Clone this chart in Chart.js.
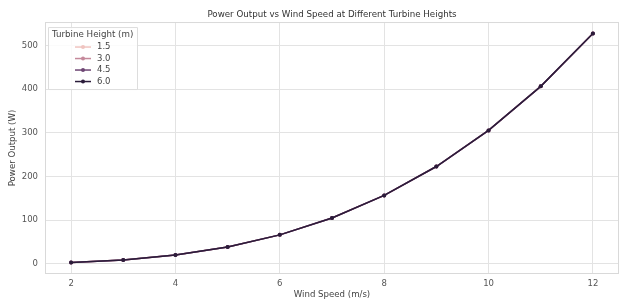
<!DOCTYPE html>
<html><head><meta charset="utf-8">
<script src="https://cdn.jsdelivr.net/npm/chart.js@4"></script>
<style>html,body{margin:0;padding:0;background:#fff}#wrap{width:619px;height:300px}</style>
</head><body><div id="wrap"><canvas id="c" width="619" height="300"></canvas></div>
<script>
const windSpeeds = [2, 3, 4, 5, 6, 7, 8, 9, 10, 11, 12];
const heights = ['1.5', '3.0', '4.5', '6.0'];
const power_1_5 = [2.4, 8.3, 19.6, 38.2, 66.0, 104.8, 156.5, 222.8, 305.6, 406.8, 528.0];
const power_3_0 = [2.4, 8.3, 19.6, 38.2, 66.0, 104.8, 156.5, 222.8, 305.6, 406.8, 528.0];
const power_4_5 = [2.4, 8.3, 19.6, 38.2, 66.0, 104.8, 156.5, 222.8, 305.6, 406.8, 528.0];
const power_6_0 = [2.4, 8.3, 19.6, 38.2, 66.0, 104.8, 156.5, 222.8, 305.6, 406.8, 528.0];
const xTicks = [2, 4, 6, 8, 10, 12];
const yTicks = [0, 100, 200, 300, 400, 500];
const colors = ['#f0c4c0', '#c5899b', '#6e4674', '#2b1c3a'];

const series = [power_1_5, power_3_0, power_4_5, power_6_0];
const FONT = 'DejaVu Sans';

const datasets = series.map((vals, i) => ({
  label: heights[i],
  data: windSpeeds.map((x, j) => ({x: x, y: vals[j]})),
  borderColor: colors[i],
  backgroundColor: colors[i],
  borderWidth: 1.5,
  pointRadius: 2,
  pointBorderWidth: 0,
  pointHoverRadius: 2,
  tension: 0,
  fill: false,
  order: series.length - i
}));

const legendPlugin = {
  id: 'innerLegend',
  afterDraw(chart) {
    const ctx = chart.ctx;
    const a = chart.chartArea;
    const x0 = a.left + 3, y0 = a.top + 5, w = 89, h = 62;
    ctx.save();
    ctx.fillStyle = 'rgba(255,255,255,0.85)';
    ctx.strokeStyle = '#dddddd';
    ctx.lineWidth = 1;
    ctx.beginPath();
    ctx.rect(x0 + 0.5, y0 + 0.5, w, h);
    ctx.fill();
    ctx.stroke();
    ctx.fillStyle = '#444444';
    ctx.font = '8.7px "' + FONT + '"';
    ctx.textBaseline = 'middle';
    ctx.textAlign = 'left';
    ctx.fillText('Turbine Height (m)', x0 + 4, y0 + 7.5);
    ctx.font = '8.5px "' + FONT + '"';
    chart.data.datasets.forEach((ds, i) => {
      const cy = y0 + 20 + i * 11.5;
      ctx.strokeStyle = ds.borderColor;
      ctx.lineWidth = 1.5;
      ctx.beginPath();
      ctx.moveTo(x0 + 27, cy);
      ctx.lineTo(x0 + 43, cy);
      ctx.stroke();
      ctx.fillStyle = ds.borderColor;
      ctx.beginPath();
      ctx.arc(x0 + 35, cy, 2, 0, Math.PI * 2);
      ctx.fill();
      ctx.fillStyle = '#444444';
      ctx.fillText(ds.label, x0 + 49, cy);
    });
    ctx.restore();
  }
};

const framePlugin = {
  id: 'frame',
  afterDraw(chart) {
    const ctx = chart.ctx, a = chart.chartArea;
    ctx.save();
    ctx.strokeStyle = '#d9d9d9';
    ctx.lineWidth = 1;
    ctx.strokeRect(a.left + 0.5, a.top + 0.5, a.right - a.left - 1, a.bottom - a.top - 1);
    ctx.restore();
  }
};

new Chart(document.getElementById('c'), {
  type: 'line',
  data: { datasets: datasets },
  options: {
    responsive: false,
    animation: false,
    layout: { padding: 0, autoPadding: false },
    plugins: {
      legend: { display: false },
      tooltip: { enabled: false },
      title: {
        display: true,
        fullSize: false,
        text: 'Power Output vs Wind Speed at Different Turbine Heights',
        color: '#333333',
        font: { family: FONT, size: 8.7, weight: 'normal' },
        padding: { top: 10, bottom: 1.6 }
      }
    },
    scales: {
      x: {
        type: 'linear',
        min: 1.5, max: 12.5,
        afterBuildTicks: s => { s.ticks = xTicks.map(v => ({value: v})); },
        afterFit: s => { s.height = 26; s.paddingRight = 0; s.paddingLeft = 0; },
        ticks: { color: '#555555', font: { family: FONT, size: 8.5 }, padding: 5, maxRotation: 0, callback: v => String(v) },
        grid: { color: '#e3e3e3', lineWidth: 1, drawTicks: false },
        border: { display: false },
        title: { display: true, text: 'Wind Speed (m/s)', color: '#444444', font: { family: FONT, size: 8.6 }, padding: { top: 0, bottom: 0 } }
      },
      y: {
        type: 'linear',
        min: -23.8, max: 554.3,
        afterBuildTicks: s => { s.ticks = yTicks.map(v => ({value: v})); },
        afterFit: s => { s.width = 45; },
        ticks: { color: '#555555', font: { family: FONT, size: 8.5 }, padding: 7, callback: v => String(v) },
        grid: { color: '#e3e3e3', lineWidth: 1, drawTicks: false },
        border: { display: false },
        title: { display: true, text: 'Power Output (W)', color: '#444444', font: { family: FONT, size: 8.6 }, padding: { top: 8, bottom: 0 } }
      }
    }
  },
  plugins: [framePlugin, legendPlugin]
});
</script>
</body></html>
